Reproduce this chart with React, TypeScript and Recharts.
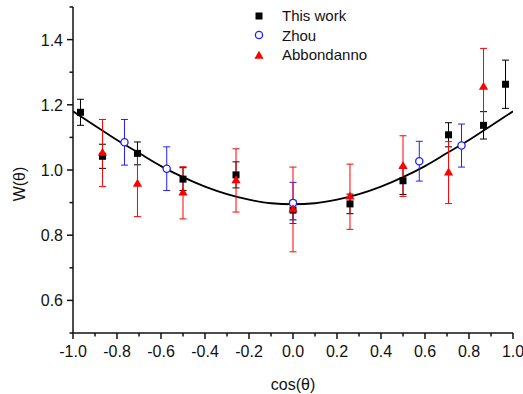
import React from 'react';
import { ComposedChart, Scatter, Line, XAxis, YAxis, ErrorBar } from 'recharts';

// cos(theta) positions and W(theta) values
const thisWorkX = [-0.966, -0.866, -0.707, -0.5, -0.259, 0, 0.259, 0.5, 0.707, 0.866, 0.966];
const thisWorkY = [1.177, 1.042, 1.051, 0.972, 0.985, 0.877, 0.896, 0.967, 1.108, 1.137, 1.263];
const thisWorkErr = [0.04, 0.037, 0.035, 0.035, 0.04, 0.03, 0.03, 0.042, 0.037, 0.042, 0.074];

const zhouX = [-0.766, -0.574, 0, 0.574, 0.766];
const zhouY = [1.085, 1.004, 0.899, 1.027, 1.075];
const zhouErr = [0.07, 0.067, 0.063, 0.061, 0.066];

const abbX = [-0.866, -0.707, -0.5, -0.259, 0, 0.259, 0.5, 0.707, 0.866];
const abbY = [1.052, 0.957, 0.93, 0.968, 0.879, 0.918, 1.012, 0.992, 1.255];
const abbErr = [0.103, 0.1, 0.08, 0.097, 0.13, 0.1, 0.093, 0.095, 0.118];

// fitted curve, read at steps of 0.1
const fitX = [-1, -0.9, -0.8, -0.7, -0.6, -0.5, -0.4, -0.3, -0.2, -0.1, 0, 0.1, 0.2, 0.3, 0.4, 0.5, 0.6, 0.7, 0.8, 0.9, 1];
const fitY = [1.18, 1.136, 1.092, 1.052, 1.012, 0.978, 0.949, 0.926, 0.909, 0.898, 0.895, 0.898, 0.909, 0.926, 0.949, 0.978, 1.012, 1.052, 1.092, 1.136, 1.18];

const xTicks = [-1, -0.9, -0.8, -0.7, -0.6, -0.5, -0.4, -0.3, -0.2, -0.1, 0, 0.1, 0.2, 0.3, 0.4, 0.5, 0.6, 0.7, 0.8, 0.9, 1];
const yTicks = [0.5, 0.6, 0.7, 0.8, 0.9, 1.0, 1.1, 1.2, 1.3, 1.4, 1.5];

const zip = (xs: number[], ys: number[], es?: number[]) =>
  xs.map((x, i) => ({ x, y: ys[i], err: es ? es[i] : 0 }));

const thisWork = zip(thisWorkX, thisWorkY, thisWorkErr);
const zhou = zip(zhouX, zhouY, zhouErr);
const abb = zip(abbX, abbY, abbErr);
const fit = zip(fitX, fitY);

const FONT = '"Liberation Sans", Arial, sans-serif';
const INK = '#111';

const isMajor = (v: number) => Math.abs(Math.round(v * 10)) % 2 === 0;

const XTick = ({ x, y, payload }: any) => {
  const major = isMajor(payload.value);
  return (
    <g>
      <line x1={x} y1={y} x2={x} y2={y + (major ? 6 : 3.5)} stroke={INK} strokeWidth={1.5} />
      {major && (
        <text x={x} y={y + 24} textAnchor="middle" fontSize={16} fontFamily={FONT} fill={INK}>
          {payload.value.toFixed(1)}
        </text>
      )}
    </g>
  );
};

const YTick = ({ x, y, payload }: any) => {
  const major = Math.abs(Math.round(payload.value * 10)) % 2 === 0;
  const show = major && payload.value > 0.55 && payload.value < 1.45;
  return (
    <g>
      <line x1={x} y1={y} x2={x - (major ? 6 : 3.5)} y2={y} stroke={INK} strokeWidth={1.5} />
      {show && (
        <text x={x - 10} y={y + 6} textAnchor="end" fontSize={16} fontFamily={FONT} fill={INK}>
          {payload.value.toFixed(1)}
        </text>
      )}
    </g>
  );
};

const Square = ({ cx, cy }: any) => <rect x={cx - 3.5} y={cy - 3.5} width={7} height={7} fill="#000" />;
const Circle = ({ cx, cy }: any) => <circle cx={cx} cy={cy} r={3.6} fill="#fff" stroke="#1f1fff" strokeWidth={1.3} />;
const Triangle = ({ cx, cy }: any) => (
  <polygon points={`${cx - 4.6},${cy + 2.8} ${cx + 4.6},${cy + 2.8} ${cx},${cy - 5.2}`} fill="#ff0000" />
);

const legendItems = [
  { name: 'This work', marker: 'square' },
  { name: 'Zhou', marker: 'circle' },
  { name: 'Abbondanno', marker: 'triangle' },
];

const LegendMarker = ({ kind }: { kind: string }) => (
  <svg width={14} height={14} style={{ display: 'block' }}>
    {kind === 'square' && <Square cx={7} cy={7} />}
    {kind === 'circle' && <Circle cx={7} cy={7} />}
    {kind === 'triangle' && <Triangle cx={7} cy={8} />}
  </svg>
);

export default function App() {
  return (
    <div style={{ position: 'absolute', left: 0, top: 0, width: 523, height: 394, background: '#fff' }}>
      <ComposedChart width={523} height={394} margin={{ top: 7, right: 10, left: 13, bottom: 21 }}>
        <XAxis
          type="number"
          dataKey="x"
          domain={[-1, 1]}
          ticks={xTicks}
          interval={0}
          allowDataOverflow
          tickSize={0}
          tickMargin={0}
          tickLine={false}
          tick={<XTick />}
          height={40}
          axisLine={{ stroke: INK, strokeWidth: 1.5 }}
        />
        <YAxis
          type="number"
          dataKey="y"
          domain={[0.5, 1.5]}
          ticks={yTicks}
          interval={0}
          allowDataOverflow
          tickSize={0}
          tickMargin={0}
          tickLine={false}
          tick={<YTick />}
          width={60}
          axisLine={{ stroke: INK, strokeWidth: 1.5 }}
        />
        <Line
          data={fit}
          dataKey="y"
          type="monotone"
          stroke="#000"
          strokeWidth={1.8}
          dot={false}
          isAnimationActive={false}
        />
        <Scatter data={thisWork} dataKey="y" shape={<Square />} isAnimationActive={false}>
          <ErrorBar dataKey="err" direction="y" width={3.5} stroke="#000" strokeWidth={1} />
        </Scatter>
        <Scatter data={zhou} dataKey="y" shape={<Circle />} isAnimationActive={false}>
          <ErrorBar dataKey="err" direction="y" width={3.5} stroke="#1f1fff" strokeWidth={1} />
        </Scatter>
        <Scatter data={abb} dataKey="y" shape={<Triangle />} isAnimationActive={false}>
          <ErrorBar dataKey="err" direction="y" width={3.5} stroke="#ff0000" strokeWidth={1} />
        </Scatter>
      </ComposedChart>
      <div
        style={{
          position: 'absolute',
          left: 20,
          top: 184,
          transform: 'translate(-50%, -50%) rotate(-90deg)',
          fontFamily: FONT,
          fontSize: 16,
          color: INK,
          whiteSpace: 'nowrap',
        }}
      >
        W(θ)
      </div>
      <div
        style={{
          position: 'absolute',
          left: 293,
          top: 385,
          transform: 'translate(-50%, -50%)',
          fontFamily: FONT,
          fontSize: 16,
          color: INK,
          whiteSpace: 'nowrap',
        }}
      >
        cos(θ)
      </div>
      <div style={{ position: 'absolute', left: 252, top: 6, fontFamily: FONT, fontSize: 15, color: INK }}>
        {legendItems.map((item) => (
          <div key={item.name} style={{ display: 'flex', alignItems: 'center', height: 19.5 }}>
            <LegendMarker kind={item.marker} />
            <span style={{ marginLeft: 16 }}>{item.name}</span>
          </div>
        ))}
      </div>
    </div>
  );
}
